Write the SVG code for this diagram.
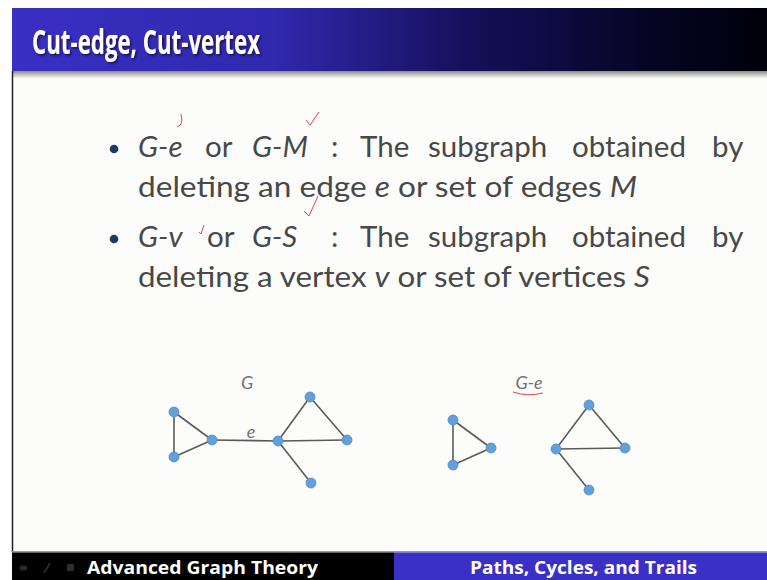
<svg xmlns="http://www.w3.org/2000/svg" width="767" height="580" viewBox="0 0 767 580">
<defs>
<linearGradient id="tg" x1="0" y1="0" x2="1" y2="0">
<stop offset="0" stop-color="#3a2fc4"/>
<stop offset="0.35" stop-color="#3028ad"/>
<stop offset="0.6" stop-color="#15105c"/>
<stop offset="0.85" stop-color="#060422"/>
<stop offset="1" stop-color="#00000a"/>
</linearGradient>
<linearGradient id="sh" x1="0" y1="0" x2="0" y2="1">
<stop offset="0" stop-color="#8a8a88"/>
<stop offset="1" stop-color="#f6f6ef"/>
</linearGradient>
<filter id="ds" x="-5%" y="-20%" width="110%" height="140%">
<feDropShadow dx="1.5" dy="1.5" stdDeviation="1" flood-color="#000" flood-opacity="0.6"/>
</filter>
</defs>
<style>
.body{font-family:Lato,"Open Sans","Liberation Sans",sans-serif;font-size:29.5px;fill:#484848}
.it{font-style:italic}
.edge{stroke:#5a5a5a;stroke-width:1.6;fill:none}
.node{fill:#62a0d8;stroke:#4f8cc4;stroke-width:0.8}
.lbl{font-family:Lato,"Open Sans","Liberation Sans",sans-serif;font-style:italic;font-size:18px;fill:#707070}
.red{stroke:#e0454f;stroke-width:1;fill:none}
.foot{font-family:"Open Sans",Lato,"Liberation Sans",sans-serif;font-weight:bold;font-size:18px;fill:#ffffff}
</style>
<rect width="767" height="580" fill="#ffffff"/>
<rect x="12" y="8" width="755" height="572" fill="#fcfcfb"/>
<g id="title">
<rect x="12" y="8" width="755" height="63" fill="url(#tg)"/>
<rect x="12" y="71" width="755" height="7" fill="url(#sh)"/>
<text x="32" y="54" font-family="'Open Sans',Lato,'Liberation Sans',sans-serif" font-weight="bold" font-size="34" fill="#ffffff" textLength="228" lengthAdjust="spacingAndGlyphs" filter="url(#ds)">Cut-edge, Cut-vertex</text>
</g>
<line x1="12.5" y1="71" x2="12.5" y2="552" stroke="#222" stroke-width="1.5"/>
<g id="bullets">
<circle cx="114" cy="149" r="4.3" fill="#1f3a6a"/>
<circle cx="114" cy="239" r="4.3" fill="#1f3a6a"/>
<text class="body" y="157">
<tspan class="it" x="138">G-e</tspan>
<tspan x="205">or</tspan>
<tspan class="it" x="252">G-M</tspan>
<tspan x="331">:</tspan>
<tspan x="360">The</tspan>
<tspan x="428">subgraph</tspan>
<tspan x="572">obtained</tspan>
<tspan x="712">by</tspan>
</text>
<text class="body" y="197" x="138" textLength="499" lengthAdjust="spacingAndGlyphs">deleting an edge <tspan class="it">e</tspan> or set of edges <tspan class="it">M</tspan></text>
<text class="body" y="247">
<tspan class="it" x="138">G-v</tspan>
<tspan x="207">or</tspan>
<tspan class="it" x="252">G-S</tspan>
<tspan x="331">:</tspan>
<tspan x="360">The</tspan>
<tspan x="428">subgraph</tspan>
<tspan x="572">obtained</tspan>
<tspan x="712">by</tspan>
</text>
<text class="body" y="287" x="138" textLength="512" lengthAdjust="spacingAndGlyphs">deleting a vertex <tspan class="it">v</tspan> or set of vertices <tspan class="it">S</tspan></text>
<path class="red" d="M181,114 L182,121 Q181,126 177,127"/>
<path class="red" d="M306,120 L310,125 L319,112"/>
<path class="red" d="M304,211 L309,216 L318,196"/>
<path class="red" d="M199,232 L201,234 L204,225"/>
</g>
<g id="connectors">
<line class="edge" x1="174" y1="412" x2="174" y2="457"/>
<line class="edge" x1="174" y1="412" x2="212" y2="440"/>
<line class="edge" x1="174" y1="457" x2="212" y2="440"/>
<line class="edge" x1="212" y1="440" x2="278" y2="441"/>
<line class="edge" x1="278" y1="441" x2="310" y2="397"/>
<line class="edge" x1="310" y1="397" x2="347" y2="440"/>
<line class="edge" x1="278" y1="441" x2="347" y2="440"/>
<line class="edge" x1="278" y1="441" x2="311" y2="483"/>
<line class="edge" x1="453" y1="420" x2="453" y2="465"/>
<line class="edge" x1="453" y1="420" x2="491" y2="448"/>
<line class="edge" x1="453" y1="465" x2="491" y2="448"/>
<line class="edge" x1="556" y1="449" x2="589" y2="405"/>
<line class="edge" x1="589" y1="405" x2="625" y2="448"/>
<line class="edge" x1="556" y1="449" x2="625" y2="448"/>
<line class="edge" x1="556" y1="449" x2="589" y2="490"/>
</g>
<g id="graphG">
<text class="lbl" x="247" y="389" text-anchor="middle">G</text>
<text class="lbl" x="251" y="438" text-anchor="middle">e</text>
<circle id="g1" class="node" cx="174" cy="412" r="5"/>
<circle id="g2" class="node" cx="174" cy="457" r="5"/>
<circle id="g3" class="node" cx="212" cy="440" r="5"/>
<circle id="g4" class="node" cx="278" cy="441" r="5"/>
<circle id="g5" class="node" cx="310" cy="397" r="5"/>
<circle id="g6" class="node" cx="347" cy="440" r="5"/>
<circle id="g7" class="node" cx="311" cy="483" r="5"/>
</g>
<g id="graphGe">
<text class="lbl" x="529" y="389" text-anchor="middle">G-e</text>
<path class="red" d="M513,392 Q528,397 543,393"/>
<circle id="h1" class="node" cx="453" cy="420" r="5"/>
<circle id="h2" class="node" cx="453" cy="465" r="5"/>
<circle id="h3" class="node" cx="491" cy="448" r="5"/>
<circle id="h4" class="node" cx="556" cy="449" r="5"/>
<circle id="h5" class="node" cx="589" cy="405" r="5"/>
<circle id="h6" class="node" cx="625" cy="448" r="5"/>
<circle id="h7" class="node" cx="589" cy="490" r="5"/>
</g>
<g id="footer">
<rect x="12" y="551" width="755" height="1.5" fill="#9a9a9a"/>
<rect x="12" y="552.5" width="382" height="27.5" fill="#000000"/>
<rect x="394" y="552.5" width="373" height="27.5" fill="#3a30c6"/>
<path d="M19,568 L23,564 L23,566 L27,566 L27,570 L23,570 L23,572 Z" fill="#2a2a2a"/>
<path d="M44,573 L50,563" stroke="#2a2a2a" stroke-width="2"/>
<rect x="67" y="564" width="7" height="7" fill="#2e2e2e"/>
<text class="foot" x="87" y="574" textLength="231" lengthAdjust="spacingAndGlyphs">Advanced Graph Theory</text>
<text class="foot" x="470" y="574" textLength="227" lengthAdjust="spacingAndGlyphs">Paths, Cycles, and Trails</text>
</g>
</svg>
